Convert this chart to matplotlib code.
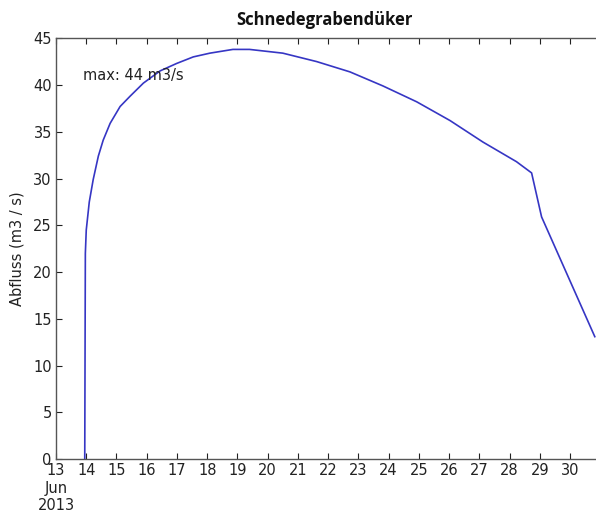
import numpy as np
import pandas as pd
import matplotlib
matplotlib.use("Agg")
import matplotlib.pyplot as plt
import matplotlib.dates as mdates

plt.rcParams["font.family"] = ["DejaVu Sans"]
plt.rcParams["savefig.bbox"] = "standard"

# Abfluss Schnedegrabendüker, Juni 2013 (Tag als Dezimalzahl)
days = [13.95, 13.97, 14.0, 14.1, 14.23, 14.40, 14.56, 14.79, 15.12, 15.45,
        15.89, 16.44, 16.99, 17.54, 18.09, 18.85, 19.4, 20.5, 21.62, 22.72,
        23.81, 24.93, 26.03, 27.12, 28.23, 28.73, 29.06, 30.82]
flow = [0.0, 22.0, 24.5, 27.5, 29.9, 32.4, 34.1, 35.9, 37.7, 38.8,
        40.2, 41.5, 42.3, 43.0, 43.4, 43.8, 43.8, 43.4, 42.5, 41.4,
        39.9, 38.2, 36.2, 33.9, 31.8, 30.6, 25.9, 13.1]
title = "Schnedegrabendüker"
ylabel = "Abfluss (m3 / s)"
note = "max: 44 m3/s"

start = pd.Timestamp("2013-06-01")
times = [start + pd.Timedelta(days=d - 1) for d in days]

fig = plt.figure(figsize=(5.96, 5.16), dpi=100)
ax = fig.add_axes([0.094, 0.110, 0.906, 0.816])

ax.plot(times, flow, color="#3636c4", lw=1.2)

ax.set_xlim(start + pd.Timedelta(days=12), start + pd.Timedelta(days=29.86))
ax.set_ylim(0, 45)
ax.set_yticks(np.arange(0, 46, 5))

ax.set_xticks(pd.date_range("2013-06-13", "2013-06-30", freq="D"))
def fmt(x, pos):
    d = mdates.num2date(x)
    if d.day == 13:
        return "13\nJun\n2013"
    return d.strftime("%d").lstrip("0")
ax.xaxis.set_major_formatter(plt.FuncFormatter(fmt))

ax.tick_params(direction="in", length=4, width=0.8, colors="#222222",
               labelsize=10.5, top=True, right=False, pad=3)
for s in ax.spines.values():
    s.set_color("#555555")
    s.set_linewidth(1.0)
ax.spines["right"].set_visible(False)

ax.set_ylabel(ylabel, fontsize=10.5, color="#222222", labelpad=6)
ax.text(0.05, 0.912, note, transform=ax.transAxes, fontsize=10.5,
        color="#222222", va="center", ha="left")
fig.text(0.545, 0.962, title, fontsize=12, fontweight="bold",
         family="Open Sans", ha="center", va="center", color="#111111")

fig.savefig("out.png", dpi=100)
